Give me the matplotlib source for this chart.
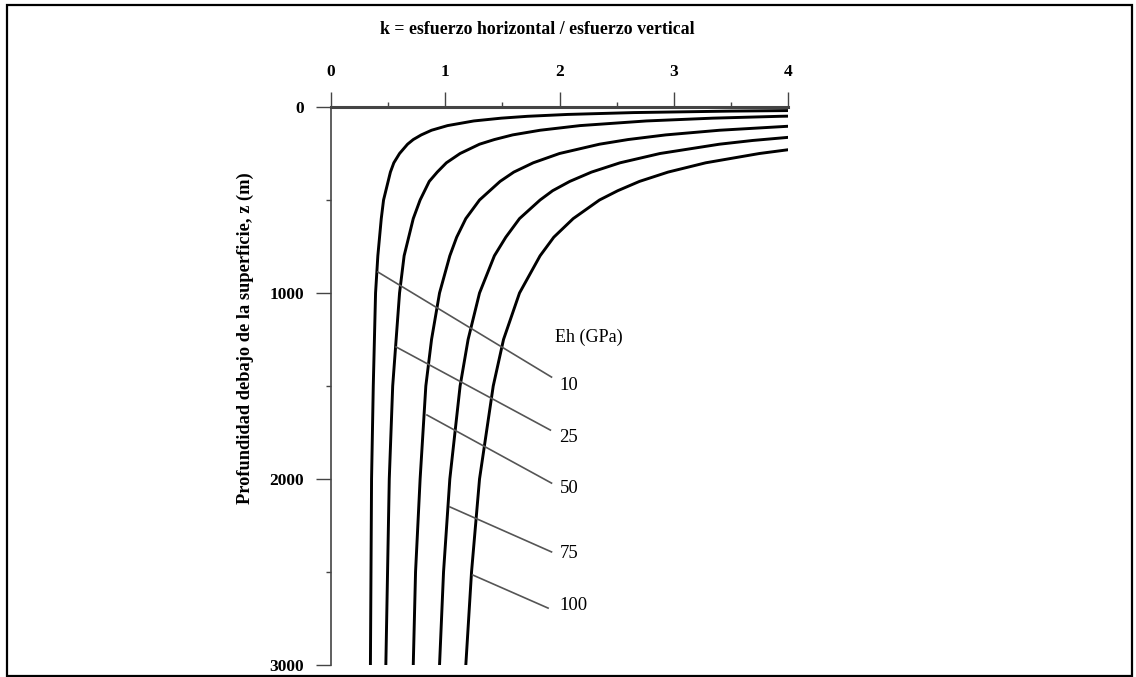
import matplotlib.pyplot as plt
from matplotlib.patches import Rectangle

# depth (m) and k values, one list per Eh curve
eh_labels = ["10", "25", "50", "75", "100"]

z_10 = [18, 22, 30, 40, 50, 60, 75, 100, 125, 150, 175, 200, 250, 300, 350, 400, 500, 600, 800, 1000, 1500, 2000, 2500, 3000]
k_10 = [4.21, 3.50, 2.65, 2.07, 1.72, 1.49, 1.25, 1.02, 0.88, 0.79, 0.72, 0.67, 0.60, 0.55, 0.52, 0.50, 0.46, 0.44, 0.41, 0.39, 0.37, 0.355, 0.35, 0.345]

z_25 = [40, 50, 60, 75, 100, 125, 150, 175, 200, 250, 300, 350, 400, 500, 600, 800, 1000, 1500, 2000, 2500, 3000]
k_25 = [4.80, 3.93, 3.34, 2.76, 2.18, 1.83, 1.59, 1.43, 1.30, 1.13, 1.01, 0.93, 0.86, 0.78, 0.72, 0.64, 0.60, 0.54, 0.51, 0.495, 0.48]

z_50 = [85, 100, 125, 150, 175, 200, 250, 300, 350, 400, 500, 600, 700, 800, 1000, 1250, 1500, 2000, 2500, 3000]
k_50 = [4.72, 4.10, 3.40, 2.93, 2.60, 2.35, 2.00, 1.77, 1.60, 1.48, 1.30, 1.18, 1.10, 1.04, 0.95, 0.88, 0.83, 0.78, 0.74, 0.72]

z_75 = [140, 160, 180, 200, 250, 300, 350, 400, 450, 500, 600, 700, 800, 1000, 1250, 1500, 2000, 2500, 3000]
k_75 = [4.53, 4.06, 3.69, 3.40, 2.88, 2.53, 2.28, 2.09, 1.94, 1.83, 1.65, 1.53, 1.43, 1.30, 1.20, 1.13, 1.04, 0.985, 0.95]

z_100 = [200, 225, 250, 300, 350, 400, 450, 500, 600, 700, 800, 1000, 1250, 1500, 2000, 2500, 3000]
k_100 = [4.45, 4.06, 3.75, 3.28, 2.95, 2.70, 2.51, 2.35, 2.12, 1.95, 1.83, 1.65, 1.51, 1.42, 1.30, 1.23, 1.18]

# leader lines: (k, z) start on curve -> end near label
lead_k0 = [0.41, 0.57, 0.84, 1.04, 1.24]
lead_z0 = [887, 1290, 1656, 2150, 2516]
lead_k1 = [1.93, 1.92, 1.93, 1.93, 1.90]
lead_z1 = [1452, 1737, 2022, 2392, 2694]
label_z = [1500, 1778, 2052, 2400, 2680]

serif = "Liberation Serif"

fig = plt.figure(figsize=(11.36, 6.77), dpi=100)
ax = fig.add_axes([331 / 1136, 1 - 665 / 677, 457 / 1136, 558 / 677])

curves = [(k_10, z_10), (k_25, z_25), (k_50, z_50), (k_75, z_75), (k_100, z_100)]
for k, z in curves:
    ax.plot(k, z, color="black", lw=2.1, solid_joinstyle="round")

for i in range(5):
    ax.plot([lead_k0[i], lead_k1[i]], [lead_z0[i], lead_z1[i]], color="#555555", lw=1.2)
    ax.text(2.0, label_z[i], eh_labels[i], family=serif, fontsize=13.5,
            ha="left", va="center")
ax.text(1.96, 1240, "Eh (GPa)", family=serif, fontsize=13,
        ha="left", va="center")

ax.set_xlim(0, 4)
ax.set_ylim(3000, 0)
ax.xaxis.tick_top()
ax.set_xticks([0, 1, 2, 3, 4])
ax.set_xticks([0.5, 1.5, 2.5, 3.5], minor=True)
ax.set_yticks([0, 1000, 2000, 3000])
ax.set_yticks([500, 1500, 2500], minor=True)
ax.tick_params(which="major", direction="out", length=10.5, width=1.0, color="#444444", pad=9)
ax.tick_params(which="minor", direction="out", length=3.8, width=1.0, color="#444444")
for lab in ax.get_xticklabels() + ax.get_yticklabels():
    lab.set_family(serif)
    lab.set_fontweight("bold")
    lab.set_fontsize(12.5)

for side in ["right", "bottom"]:
    ax.spines[side].set_visible(False)
ax.spines["top"].set_linewidth(2.2)
ax.spines["top"].set_color("#444444")
ax.spines["left"].set_linewidth(1.2)
ax.spines["left"].set_color("#444444")
ax.patch.set_alpha(0)

fig.text(537 / 1136, 1 - 30 / 677, "k = esfuerzo horizontal / esfuerzo vertical",
         family=serif, fontweight="bold", fontsize=12.8,
         ha="center", va="center")
fig.text(245 / 1136, 1 - 338 / 677, "Profundidad debajo de la superficie, z (m)",
         family=serif, fontweight="bold", fontsize=13.2,
         rotation=90, ha="center", va="center")

# frame around the picture
fig.patches.append(Rectangle((6.5 / 1136, 1 / 677), 1125 / 1136, 671 / 677,
                             transform=fig.transFigure, fill=False,
                             edgecolor="black", lw=1.6))

fig.savefig("out.png", dpi=100)
